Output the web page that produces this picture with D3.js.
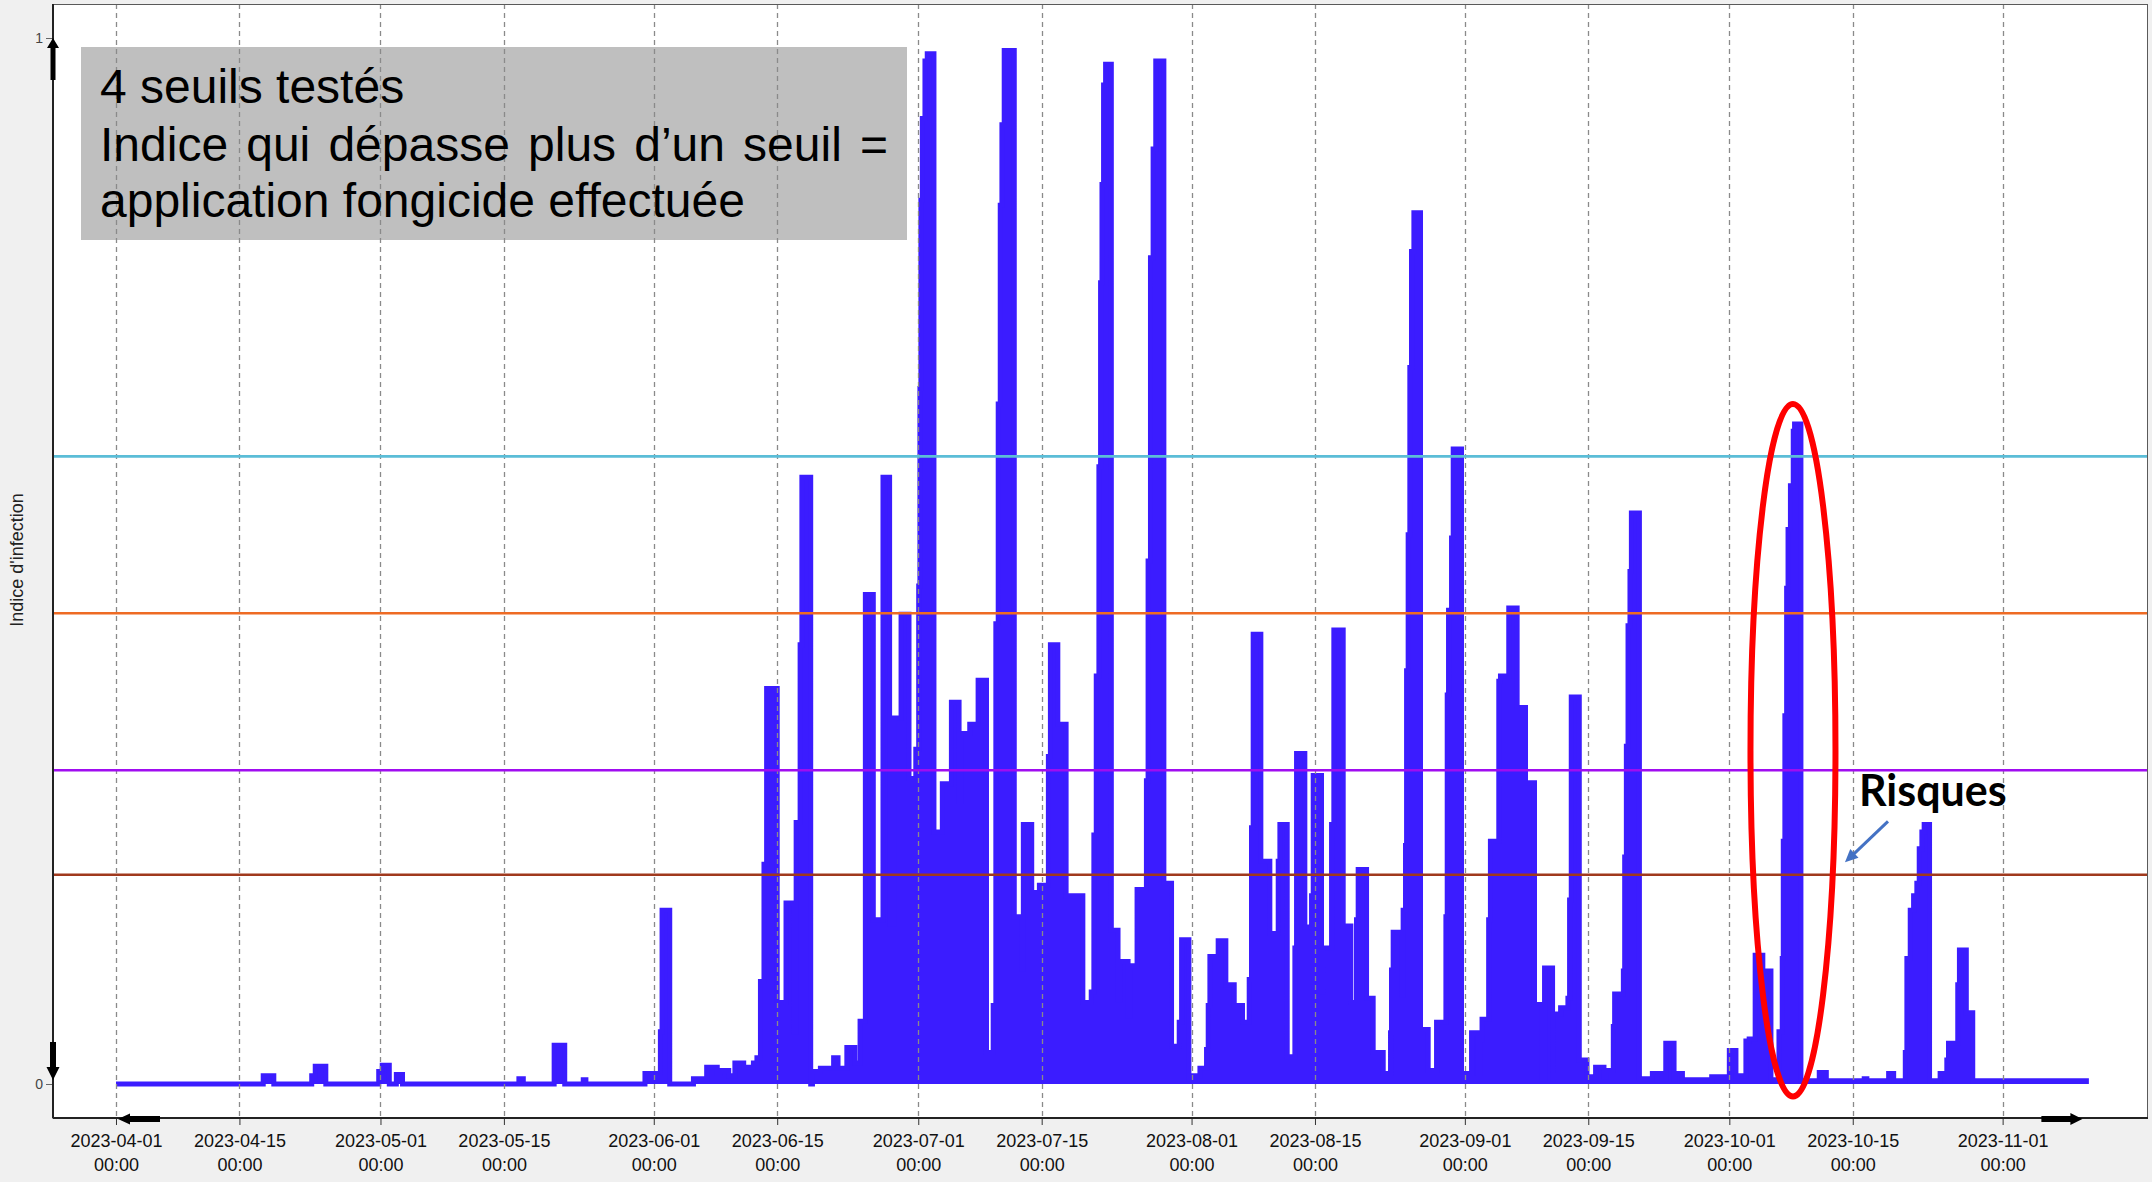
<!DOCTYPE html>
<html>
<head>
<meta charset="utf-8">
<script src="https://cdn.jsdelivr.net/npm/d3@7"></script>
<style>
  body { margin: 0; background: #f0f0f0; }
  svg { display: block; }
</style>
</head>
<body>
<script>
/* global d3 */
(function() {
  'use strict';

  // date axis labels
  const tickLabels = ['2023-04-01', '2023-04-15', '2023-05-01', '2023-05-15', '2023-06-01',
    '2023-06-15', '2023-07-01', '2023-07-15', '2023-08-01', '2023-08-15', '2023-09-01',
    '2023-09-15', '2023-10-01', '2023-10-15', '2023-11-01'];
  const yTicks = [0, 1];

  // the 4 thresholds tested
  const thresholds = [0.6, 0.45, 0.3, 0.2];

  // infection index : [day of month, value], value held until the next point
  const apr = [[1, 0], [17.7, 0.008], [18.9, 0], [23.2, 0.008], [23.6, 0.017], [24.8, 0],
    [30.8, 0.012]];
  const may = [[1.2, 0.018], [2.0, 0], [2.8, 0.009], [3.5, 0], [16.7, 0.005], [17.2, 0],
    [20.7, 0.037], [21.9, 0], [24.0, 0.004], [24.3, 0], [31.0, 0.01]];
  const jun = [[1.75, 0.05], [1.94, 0.166], [2.81, 0], [5.5, 0.005], [7.0, 0.016], [8.2, 0.01],
    [8.5, 0.013], [9.5, 0.008], [10.2, 0.02], [11.2, 0.016], [12.3, 0.02], [12.7, 0.025],
    [13.1, 0.098], [13.5, 0.21], [13.8, 0.378], [15.0, 0.078], [16.0, 0.173], [16.85, 0.05],
    [17.15, 0.25], [17.6, 0.42], [17.8, 0.58], [18.8, 0], [19.0, 0.012], [19.9, 0.015],
    [21.4, 0.025], [21.9, 0.015], [22.9, 0.035], [23.8, 0.02], [24.4, 0.06], [25.0, 0.468],
    [25.9, 0.157], [27.0, 0.58], [27.75, 0.153], [28.2, 0.35], [29.05, 0.449], [29.95, 0.292],
    [30.72, 0.32]];
  const jul = [[1.05, 0.476], [1.19, 0.665], [1.3, 0.845], [1.46, 0.923], [1.76, 0.978],
    [2.02, 0.985], [2.78, 0.241], [3.73, 0.287], [4.76, 0.365], [5.63, 0.27], [5.9, 0.335],
    [6.84, 0.344], [7.79, 0.386], [8.74, 0.03], [9.5, 0.075], [9.8, 0.44], [10.07, 0.65],
    [10.3, 0.84], [10.49, 0.917], [10.75, 0.988], [11.89, 0.16], [12.73, 0.11], [12.92, 0.248],
    [13.87, 0.183], [14.74, 0.19], [15.76, 0.313], [15.99, 0.42], [16.83, 0.344], [17.77, 0.18],
    [19.67, 0.078], [20.62, 0.088], [20.92, 0.238], [21.19, 0.39], [21.49, 0.59], [21.68, 0.766],
    [21.84, 0.86], [22.02, 0.955], [22.25, 0.975], [22.9, 0.147], [23.66, 0.08], [23.92, 0.117],
    [24.8, 0.065], [24.98, 0.113], [25.82, 0.186], [26.88, 0.29], [27.07, 0.5], [27.34, 0.79],
    [27.64, 0.894], [27.94, 0.978], [28.86, 0.192], [29.73, 0.036], [30.6, 0.059], [30.87, 0.138],
    [31.7, 0.005]];
  const aug = [[1.0, 0.008], [1.95, 0.015], [2.7, 0.033], [2.89, 0.075], [3.08, 0.122],
    [4.02, 0.137], [4.89, 0.095], [5.84, 0.075], [6.78, 0.059], [7.54, 0.1], [7.8, 0.245],
    [7.99, 0.43], [8.86, 0.213], [9.88, 0.144], [10.83, 0.213], [11.02, 0.248], [11.85, 0.026],
    [12.72, 0.13], [12.91, 0.316], [13.85, 0.15], [14.61, 0.18], [14.8, 0.295], [15.74, 0.088],
    [15.93, 0.13], [16.88, 0.248], [17.14, 0.434], [18.2, 0.151], [19.07, 0.078], [19.71, 0.157],
    [19.9, 0.205], [20.85, 0.082], [21.6, 0.03], [22.74, 0.01], [23.57, 0.049], [23.68, 0.109],
    [23.87, 0.145], [24.82, 0.085], [25.0, 0.166], [25.27, 0.228], [25.39, 0.395], [25.57, 0.525],
    [25.76, 0.685], [25.95, 0.796], [26.22, 0.833], [26.97, 0.052], [27.84, 0.013], [28.79, 0.059],
    [29.85, 0.16], [30.0, 0.372], [30.15, 0.453], [30.49, 0.522], [30.68, 0.607], [31.62, 0.01]];
  const sep = [[1.76, 0.049], [2.5, 0.01], [2.7, 0.042], [2.95, 0.062], [3.7, 0.157],
    [3.9, 0.232], [4.85, 0.385], [5.04, 0.39], [5.98, 0.455], [6.93, 0.36], [7.88, 0.288],
    [8.9, 0.076], [9.77, 0.005], [10.04, 0.111], [10.95, 0.005], [11.02, 0.067], [11.86, 0.073],
    [12.69, 0.082], [12.88, 0.176], [13.07, 0.37], [13.98, 0.023], [14.85, 0.007], [15.83, 0.016],
    [16.78, 0.007], [16.97, 0.013], [17.84, 0.055], [17.99, 0.086], [18.98, 0.108], [19.13, 0.217],
    [19.32, 0.323], [19.51, 0.438], [19.73, 0.49], [19.89, 0.546], [20.8, 0.005], [22.27, 0.01],
    [23.41, 0.005], [23.79, 0.039], [24.73, 0.005], [24.85, 0.01], [25.68, 0.004], [29.0, 0.007]];
  const oct = [[1.0, 0.032], [1.75, 0.008], [2.88, 0.041], [3.25, 0.043], [3.93, 0.123],
    [4.8, 0.108], [5.72, 0.004], [6.63, 0.05], [7.0, 0.12], [7.12, 0.232], [7.3, 0.352],
    [7.5, 0.474], [7.66, 0.53], [7.93, 0.572], [8.25, 0.624], [8.4, 0.631], [9.12, 0.003],
    [11.2, 0.011], [12.0, 0.003], [16.3, 0.005], [16.6, 0.003], [19.07, 0.01], [19.64, 0.003],
    [20.96, 0.03], [21.14, 0.12], [21.52, 0.166], [21.9, 0.18], [22.27, 0.192], [22.54, 0.225],
    [22.84, 0.241], [23.1, 0.248], [23.71, 0.003], [24.91, 0.01], [25.67, 0.023], [25.86, 0.039],
    [26.91, 0.095], [27.1, 0.128], [27.88, 0.068], [28.61, 0.003]];
  const nov = [[10.5, 0]];

  const months = [apr, may, jun, jul, aug, sep, oct, nov]; // april = month 3

  const boxLines = ['4 seuils testés', 'Indice qui dépasse plus d’un seuil =',
    'application fongicide effectuée'];

  // styles
  const thresholdColors = ['#5bbdd7', '#ee6b24', '#a00df0', '#a0391d'];
  const seriesColor = '#3b1cff';

  const w = 2152;
  const h = 1182;
  const left = 53, right = 2148, top = 4, bottom = 1118;

  const dayMs = 864e5;
  const toDate = (m, d) => new Date(Date.UTC(2023, m, 1) + (d - 1) * dayMs);

  const dataset = [];
  months.forEach((arr, i) => {
    arr.forEach(p => dataset.push({ t: toDate(3 + i, p[0]), v: p[1] }));
  });

  const xScale =
    d3.scaleUtc()
      .domain([new Date(Date.UTC(2023, 2, 24, 20, 30)), new Date(Date.UTC(2023, 10, 17, 11, 45))])
      .range([left, right]);
  const yScale =
    d3.scaleLinear()
      .domain([0, 1])
      .range([1084, 38]);

  const svg =
    d3.select('body')
      .append('svg')
      .attr('width', w)
      .attr('height', h)
      .style('font-family', '"Liberation Sans", Arial, sans-serif');

  // plot frame
  svg.append('rect')
    .attr('x', left).attr('y', top)
    .attr('width', right - left).attr('height', bottom - top)
    .attr('fill', '#fff');

  // grey text box (under the grid)
  svg.append('rect')
    .attr('x', 81).attr('y', 47)
    .attr('width', 826).attr('height', 193)
    .attr('fill', '#bfbfbf');

  svg.append('clipPath').attr('id', 'plot')
    .append('rect')
    .attr('x', left).attr('y', top)
    .attr('width', right - left).attr('height', bottom - top);

  const plot = svg.append('g').attr('clip-path', 'url(#plot)');

  const area = d3.area()
    .curve(d3.curveStepAfter)
    .x(d => xScale(d.t))
    .y0(yScale(0))
    .y1(d => yScale(d.v));
  const line = d3.line()
    .curve(d3.curveStepAfter)
    .x(d => xScale(d.t))
    .y(d => yScale(d.v));

  plot.append('path')
    .datum(dataset)
    .attr('d', area)
    .attr('fill', seriesColor);
  plot.append('path')
    .datum(dataset)
    .attr('d', line)
    .attr('fill', 'none')
    .attr('stroke', seriesColor)
    .attr('stroke-width', 5);

  // vertical dashed grid
  const tickDates = tickLabels.map(s => new Date(s + 'T00:00:00Z'));
  plot.selectAll('line.grid')
    .data(tickDates)
    .enter()
    .append('line')
    .attr('class', 'grid')
    .attr('x1', d => Math.round(xScale(d)) + 0.5)
    .attr('x2', d => Math.round(xScale(d)) + 0.5)
    .attr('y1', top)
    .attr('y2', bottom)
    .attr('stroke', '#8a8a8a')
    .attr('stroke-width', 1.3)
    .attr('stroke-dasharray', '5,4');

  // thresholds
  plot.selectAll('line.seuil')
    .data(thresholds)
    .enter()
    .append('line')
    .attr('class', 'seuil')
    .attr('x1', left)
    .attr('x2', right)
    .attr('y1', d => yScale(d))
    .attr('y2', d => yScale(d))
    .attr('stroke', (d, i) => thresholdColors[i])
    .attr('stroke-width', 2.6);

  // box text
  const boxText = svg.append('g')
    .style('font-size', '48px')
    .attr('fill', '#000');
  boxText.selectAll('text')
    .data(boxLines)
    .enter()
    .append('text')
    .attr('x', 100)
    .attr('y', (d, i) => [103, 161, 217][i])
    .attr('word-spacing', (d, i) => i === 1 ? '4.8px' : null)
    .text(d => d);

  // frame border
  svg.append('rect')
    .attr('x', left).attr('y', top + 0.5)
    .attr('width', right - left - 0.5).attr('height', bottom - top)
    .attr('fill', 'none')
    .attr('stroke', '#5a5a5a');

  // x axis
  const xAxis = d3.axisBottom(xScale)
    .tickValues(tickDates)
    .tickSize(7)
    .tickFormat('');
  const gx = svg.append('g')
    .attr('transform', 'translate(0,' + bottom + ')')
    .call(xAxis);
  gx.select('.domain').remove();
  gx.selectAll('.tick line').attr('stroke', '#333');
  gx.selectAll('.tick')
    .append('text')
    .attr('fill', '#111')
    .style('font-size', '18px')
    .attr('text-anchor', 'middle')
    .each(function(d, i) {
      const t = d3.select(this);
      t.append('tspan').attr('x', 0).attr('y', 29).text(tickLabels[i]);
      t.append('tspan').attr('x', 0).attr('y', 53).text('00:00');
    });

  // y axis
  const yAxis = d3.axisLeft(yScale)
    .tickValues(yTicks)
    .tickFormat(d3.format('d'))
    .tickSize(7)
    .tickPadding(3);
  const gy = svg.append('g')
    .attr('transform', 'translate(' + left + ',0)')
    .call(yAxis);
  gy.select('.domain').remove();
  gy.selectAll('.tick line').attr('stroke', '#666');
  gy.selectAll('.tick text')
    .attr('fill', '#444')
    .style('font-size', '14px')
    .style('font-family', '"Liberation Sans", Arial, sans-serif');

  // axis lines
  svg.append('line')
    .attr('x1', left).attr('x2', left)
    .attr('y1', top).attr('y2', bottom)
    .attr('stroke', '#222').attr('stroke-width', 2);
  svg.append('line')
    .attr('x1', left).attr('x2', right)
    .attr('y1', bottom).attr('y2', bottom)
    .attr('stroke', '#222').attr('stroke-width', 2);

  svg.append('text')
    .attr('transform', 'translate(23,560) rotate(-90)')
    .attr('text-anchor', 'middle')
    .style('font-size', '18px')
    .attr('fill', '#222')
    .text('Indice d\'infection');

  // black block arrows on the axes
  function blockArrow(tx, ty, angle, len, sw, hl, hw) {
    const pts = [[0, 0], [-hl, -hw / 2], [-hl, -sw / 2], [-len, -sw / 2],
      [-len, sw / 2], [-hl, sw / 2], [-hl, hw / 2]];
    svg.append('path')
      .attr('d', 'M' + pts.map(p => p.join(',')).join('L') + 'Z')
      .attr('transform', 'translate(' + tx + ',' + ty + ') rotate(' + angle + ')')
      .attr('fill', '#000');
  }
  const first = dataset[0].t;
  const last = dataset[dataset.length - 1].t;
  blockArrow(left, yScale(1), -90, 42, 5, 10, 12);
  blockArrow(left, yScale(0) - 4, 90, 38, 6, 13, 13);
  blockArrow(xScale(first) + 2, bottom + 1, 180, 42, 6, 12, 11);
  blockArrow(xScale(last) - 4, bottom + 1, 0, 41, 6, 12, 12);

  // red ellipse around the october peak
  const cx = xScale(toDate(9, 8.22));
  const cy = yScale(0.319);
  svg.append('ellipse')
    .attr('cx', cx).attr('cy', cy)
    .attr('rx', 42.5)
    .attr('ry', yScale(0) - yScale(0.331))
    .attr('fill', 'none')
    .attr('stroke', '#ff0000')
    .attr('stroke-width', 6);

  svg.append('text')
    .attr('x', cx + 66)
    .attr('y', cy + 56)
    .style('font-family', 'Lato, "Open Sans", sans-serif')
    .style('font-weight', 'bold')
    .style('font-size', '43px')
    .attr('fill', '#000')
    .text('Risques');

  // small blue arrow
  const ax1 = cx + 95, ay1 = cy + 71, ax2 = cx + 52, ay2 = cy + 112;
  const ang = Math.atan2(ay2 - ay1, ax2 - ax1) * 180 / Math.PI;
  svg.append('line')
    .attr('x1', ax1).attr('y1', ay1)
    .attr('x2', ax2 + 8 * Math.cos(ang * Math.PI / 180) * -1)
    .attr('y2', ay2 + 8 * Math.sin(ang * Math.PI / 180) * -1)
    .attr('stroke', '#4472c4')
    .attr('stroke-width', 3);
  svg.append('path')
    .attr('d', 'M0,0L-13,-6L-13,6Z')
    .attr('transform', 'translate(' + ax2 + ',' + ay2 + ') rotate(' + ang + ')')
    .attr('fill', '#4472c4');
}());
</script>
</body>
</html>
